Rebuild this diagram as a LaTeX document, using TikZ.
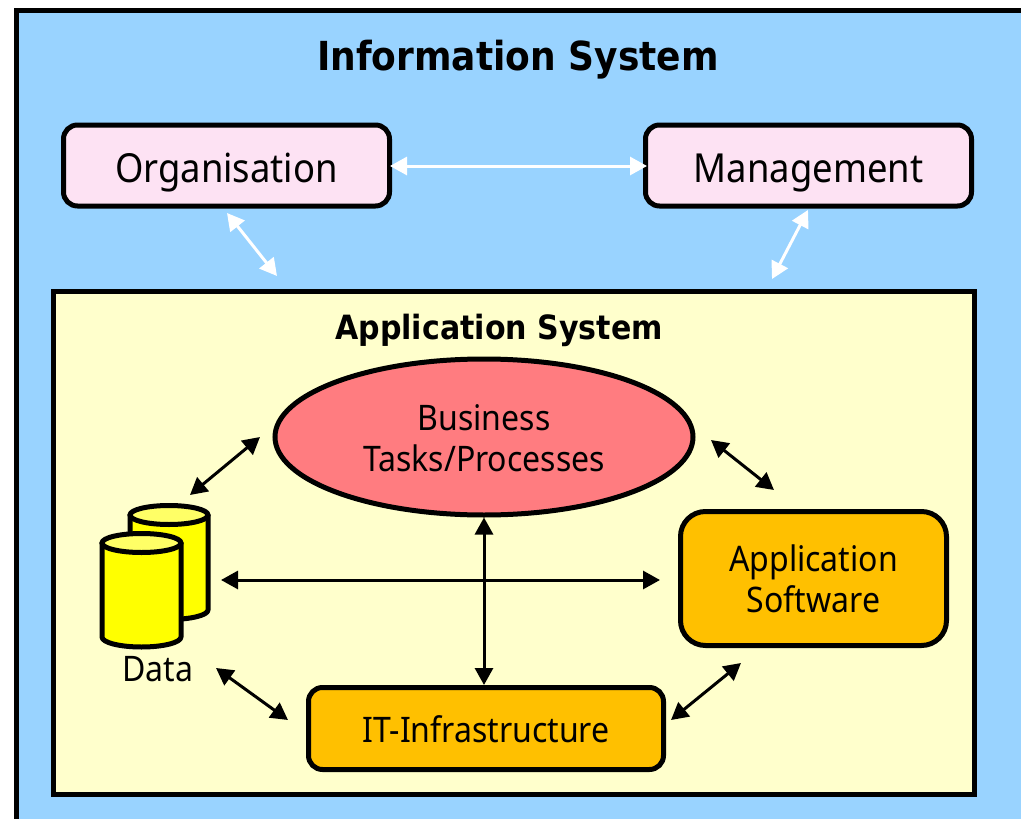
\documentclass[tikz,border=0pt]{standalone}
\usepackage{fontspec}
\setmainfont[FakeStretch=0.91]{Noto Sans}
\newfontfamily\titlefont[FakeStretch=0.9]{DejaVu Sans}
\usetikzlibrary{arrows.meta,shapes.geometric}
\definecolor{skyc}{HTML}{99D3FF}
\definecolor{pinkc}{HTML}{FDE2F3}
\definecolor{creamc}{HTML}{FFFFCC}
\definecolor{redc}{HTML}{FF7C80}
\definecolor{orangec}{HTML}{FFC000}
\definecolor{yelc}{HTML}{FFFF00}
\definecolor{yeltop}{HTML}{FFFF66}
\tikzset{
  x=1pt,y=-1pt,
  heavy/.style={draw=black,line width=5pt},
  topbox/.style={heavy,fill=pinkc,rounded corners=14pt,minimum width=326pt,minimum height=81pt,font=\fontsize{40}{43}\selectfont,inner sep=0pt,text height=33pt,text depth=0pt},
  techbox/.style={heavy,fill=orangec,font=\fontsize{35.2}{41}\selectfont,align=center,inner sep=0pt},
  whitearrow/.style={draw=white,line width=3pt,{Triangle[length=17pt,width=18pt,fill=white]}-{Triangle[length=17pt,width=18pt,fill=white]}},
  blackarrow/.style={draw=black,line width=3pt,{Triangle[length=17pt,width=18pt,fill=black]}-{Triangle[length=17pt,width=18pt,fill=black]}},
  cylside/.style={heavy,fill=yelc,line join=round},
  cyltop/.style={heavy,fill=yeltop},
}
\begin{document}
\begin{tikzpicture}
\useasboundingbox (0,0) rectangle (1021,819);
\clip (0,0) rectangle (1021,819);
\fill[white] (0,0) rectangle (1021,819);
\draw[heavy,fill=skyc] (16,10.5) rectangle (1040,840);
\node[font=\titlefont\bfseries\fontsize{40}{44}\selectfont,inner sep=0pt] (title) at (518,60) {Information System};
\node[topbox] (org) at (226.5,165.5) {Organisation};
\node[topbox] (mgmt) at (808.5,165.5) {Management};
\node[heavy,fill=creamc,minimum width=921pt,minimum height=503pt,inner sep=0pt] (appsys) at (513.5,542.5) {};
\node[font=\titlefont\bfseries\fontsize{33.4}{36}\selectfont,inner sep=0pt] (apptitle) at (499,330) {Application System};
\node[heavy,ellipse,fill=redc,minimum width=418pt,minimum height=156pt,inner sep=0pt,font=\fontsize{35.2}{41}\selectfont,align=center] (biz) at (484,437) {\rule{0pt}{28pt}Business\\Tasks/Processes};
\node[techbox,rounded corners=25pt,minimum width=266pt,minimum height=134pt] (soft) at (813.5,578.5) {Application\\Software};
\node[techbox,rounded corners=14pt,minimum width=355pt,minimum height=82pt] (infra) at (486,728.5) {\rule{0pt}{28pt}IT-Infrastructure};
% data cylinders
\draw[cylside] (130,515) -- (130,610) arc[start angle=180,end angle=0,x radius=39,y radius=9.5] -- (208,515) -- cycle;
\draw[cyltop] (169,515) ellipse[x radius=39,y radius=9.5];
\draw[cylside] (102,543) -- (102,637) arc[start angle=180,end angle=0,x radius=39.5,y radius=10] -- (181,543) -- cycle;
\draw[cyltop] (141.5,543) ellipse[x radius=39.5,y radius=9.5];
\node[font=\fontsize{35.2}{36}\selectfont,inner sep=0pt] (data) at (158,669) {Data};
% free ends of connectors
\coordinate (orgE) at (390,166);
\coordinate (mgmtW) at (647,166);
\coordinate (orgS) at (227,213);
\coordinate (appNW) at (277,276);
\coordinate (mgmtS) at (808,210);
\coordinate (appNE) at (772,279);
\coordinate (bizW) at (260,437);
\coordinate (dataN) at (190,495);
\coordinate (bizE) at (711,440);
\coordinate (softN) at (774,490);
\coordinate (dataE) at (221,580);
\coordinate (softW) at (660,580);
\coordinate (dataS) at (216,668);
\coordinate (infraW) at (288,720);
\coordinate (infraE) at (671,720);
\coordinate (softS) at (741,663);
% connectors
\draw[whitearrow] (orgE) -- (mgmtW);
\draw[whitearrow] (orgS) -- (appNW);
\draw[whitearrow] (mgmtS) -- (appNE);
\draw[blackarrow] (bizW) -- (dataN);
\draw[blackarrow] (bizE) -- (softN);
\draw[blackarrow] (dataE) -- (softW);
\draw[blackarrow] (biz.south) -- (infra.north -| biz.south);
\draw[blackarrow] (dataS) -- (infraW);
\draw[blackarrow] (infraE) -- (softS);
\end{tikzpicture}
\end{document}
